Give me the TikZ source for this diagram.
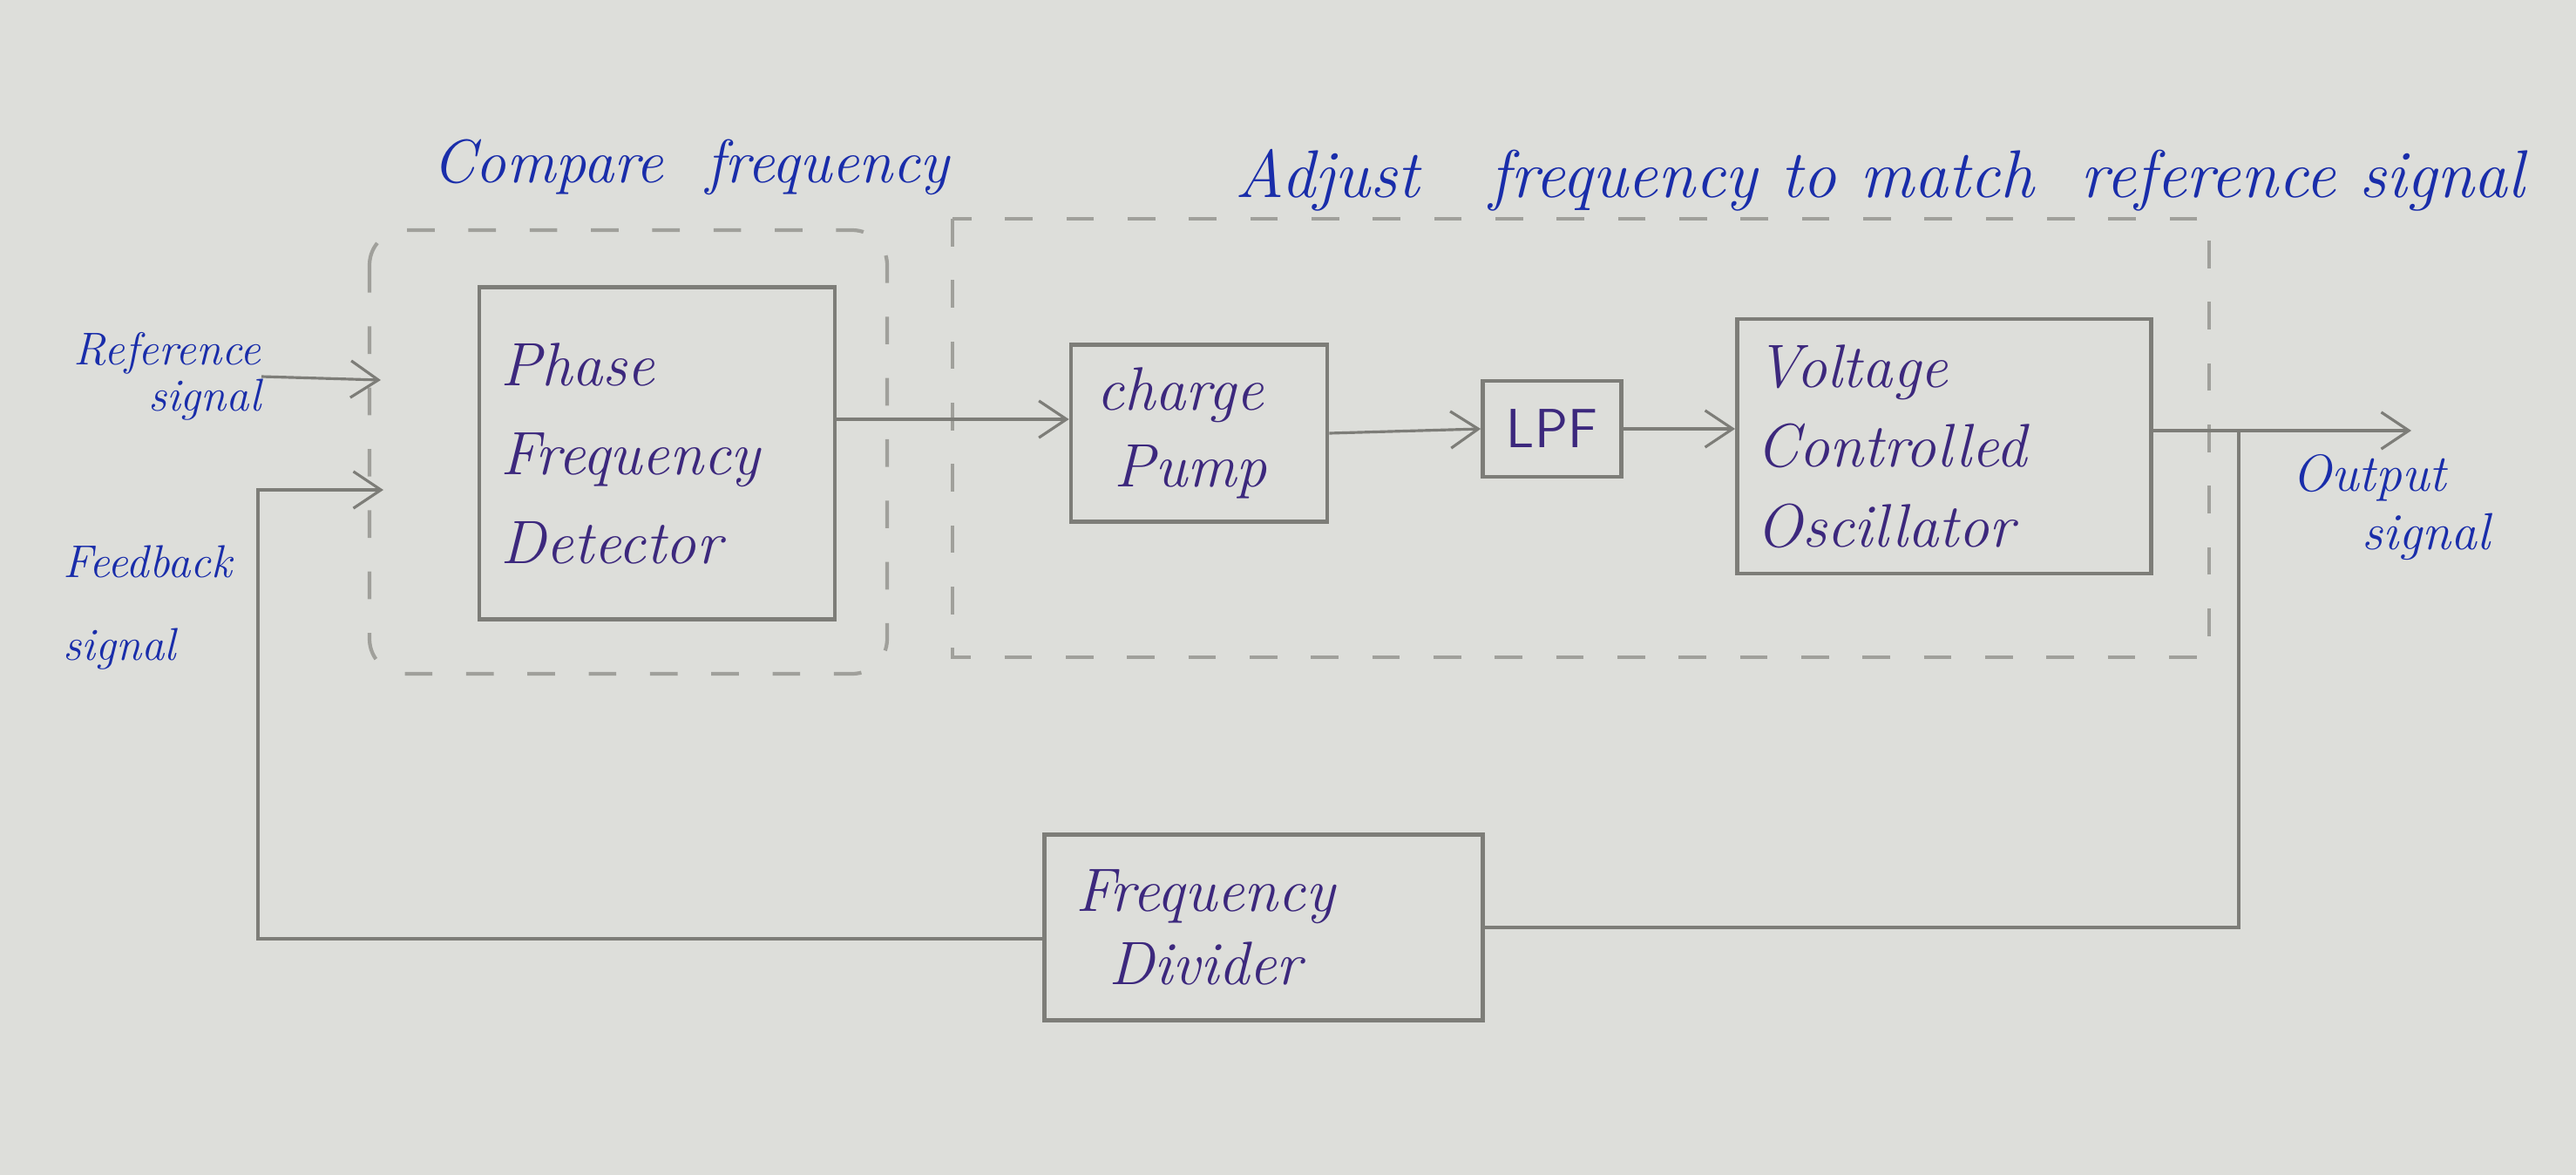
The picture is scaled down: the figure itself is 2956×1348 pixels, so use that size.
\documentclass[tikz,border=0pt]{standalone}
\usetikzlibrary{arrows.meta}
\definecolor{paper}{RGB}{221,222,218}
\definecolor{pencil}{RGB}{125,125,120}
\definecolor{dashc}{RGB}{160,160,155}
\definecolor{ink}{RGB}{25,45,170}
\definecolor{boxink}{RGB}{60,40,125}
\begin{document}
\begin{tikzpicture}[x=0.01cm,y=-0.01cm,
  blk/.style={draw=pencil,line width=1.3pt,text=boxink,align=left,inner ysep=0pt,
    font=\fontsize{20}{29}\selectfont\itshape},
  lab/.style={text=ink,inner sep=0pt},
  wire/.style={draw=pencil,line width=0.9pt},
  arr/.style={wire,-{Straight Barb[length=9pt,width=12pt,line width=0.9pt]}},
  grp/.style={draw=dashc,line width=1.2pt,dash pattern=on 9pt off 11pt}]
\fill[paper] (0,0) rectangle (2956,1348);
\useasboundingbox (0,0) rectangle (2956,1348);

% dashed groups
\draw[grp,rounded corners=0.4cm] (424,264) rectangle (1018,773);
\draw[grp] (1093,251) rectangle (2535,754);

% blocks
\node[blk,inner xsep=0.25cm,text width=3.58cm,minimum height=3.81cm] (pfd) at (754,520) {Phase\\Frequency\\Detector};
\node[blk,inner xsep=0.3cm,text width=2.34cm,minimum height=2.03cm,font=\fontsize{20}{25}\selectfont\itshape] (cp) at (1376,497) {charge\\\hspace*{0.2cm}Pump};
\node[blk,inner sep=0pt,minimum width=1.59cm,minimum height=1.10cm,font=\fontsize{18}{22}\selectfont\sffamily] (lpf) at (1781,492) {LPF};
\node[blk,inner xsep=0.22cm,text width=4.31cm,minimum height=2.92cm,font=\fontsize{20}{26}\selectfont\itshape] (vco) at (2231,512) {Voltage\\Controlled\\Oscillator};
\node[blk,inner xsep=0.36cm,text width=4.31cm,minimum height=2.13cm,font=\fontsize{20}{24}\selectfont\itshape] (div) at (1450,1064) {Frequency\\\hspace*{0.38cm}Divider};

% labels
\node[lab,font=\fontsize{20}{24}\selectfont\itshape,anchor=west] (cmp) at (496,192) {Compare\ \ frequency};
\node[lab,font=\fontsize{22}{26}\selectfont\itshape,anchor=west] (adj) at (1417,207) {Adjust\ \ \ frequency\ to\ match\ \ reference\ signal};
\node[lab,font=\fontsize{15}{15}\selectfont\itshape,align=right,anchor=east] (reflab) at (300,432) {Reference\\signal};
\node[lab,font=\fontsize{15}{27}\selectfont\itshape,align=left,anchor=west] (fblab) at (72,697) {Feedback\\signal};
\node[lab,font=\fontsize{17}{19}\selectfont\itshape,align=left,anchor=west] (outlab) at (2630,582) {Output\\\hspace*{0.8cm}signal};

% connector points
\coordinate (refin) at (437,436);
\coordinate (fbin) at (440,562);
\coordinate (fbcorner) at (296,1077);
\coordinate (out) at (2767,494);
\coordinate (tap) at (2569,494);

% connectors
\draw[arr] (reflab.east) -- (refin);
\draw[arr] (div.west |- fbcorner) -- (fbcorner) |- (fbin);
\draw[arr] (pfd.east |- 0,481) -- (cp.west |- 0,481);
\draw[arr] (cp.east) -- (lpf.west);
\draw[arr] (lpf.east) -- (vco.west |- lpf.east);
\draw[arr] (vco.east |- out) -- (out);
\draw[wire] (tap) |- (div.east);
\end{tikzpicture}
\end{document}
